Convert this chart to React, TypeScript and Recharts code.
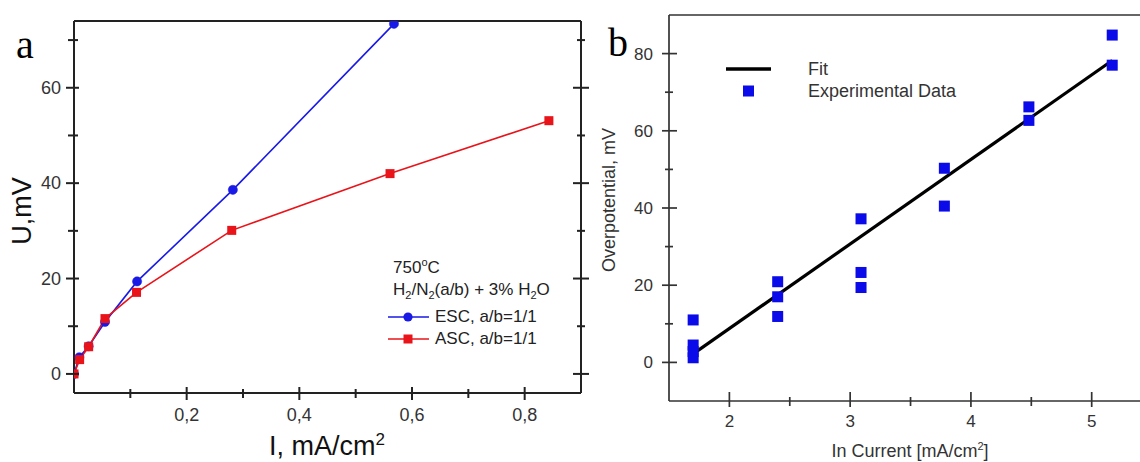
import React from 'react';
import { LineChart, Line, XAxis, YAxis, ComposedChart, Scatter } from 'recharts';

// panel a: U vs I
const escCurrent = [0, 0.0094, 0.026, 0.055, 0.112, 0.282, 0.568];
const escVoltage = [0, 3.5, 5.8, 10.9, 19.4, 38.6, 73.4];
const ascCurrent = [0, 0.01, 0.026, 0.055, 0.111, 0.28, 0.561, 0.843];
const ascVoltage = [0, 3.0, 5.7, 11.6, 17.1, 30.1, 42.0, 53.1];
const seriesNamesA = ['ESC, a/b=1/1', 'ASC, a/b=1/1'];
const xTicksA = [0.1, 0.2, 0.3, 0.4, 0.5, 0.6, 0.7, 0.8];
const xMajorA = [0.2, 0.4, 0.6, 0.8];
const yTicksA = [0, 10, 20, 30, 40, 50, 60, 70];
const yMajorA = [0, 20, 40, 60];

// panel b: overpotential vs ln current
const lnCurrent = [1.7, 1.7, 1.7, 1.7, 2.4, 2.4, 2.4, 3.09, 3.09, 3.09, 3.78, 3.78, 4.48, 4.48, 5.17, 5.17];
const overpotential = [11.0, 4.5, 2.8, 1.2, 20.9, 17.0, 11.9, 37.2, 23.3, 19.4, 50.3, 40.5, 66.2, 62.7, 84.8, 77.0];
const fitX = [1.7, 5.17];
const fitY = [2.2, 78.2];
const seriesNamesB = ['Fit', 'Experimental Data'];
const xTicksB = [2, 2.5, 3, 3.5, 4, 4.5, 5];
const xMajorB = [2, 3, 4, 5];
const yTicksB = [0, 10, 20, 30, 40, 50, 60, 70, 80];
const yMajorB = [0, 20, 40, 60, 80];

const escData = escCurrent.map((i, k) => ({ i, u: escVoltage[k] }));
const ascData = ascCurrent.map((i, k) => ({ i, u: ascVoltage[k] }));
const expData = lnCurrent.map((x, k) => ({ x, y: overpotential[k] }));
const fitData = fitX.map((x, k) => ({ x, y: fitY[k] }));

const BLUE = '#1a1ae6';
const RED = '#e8141a';
const SQ_BLUE = '#0b0bea';
const SANS = '"Liberation Sans", Arial, sans-serif';
const SERIF = '"Liberation Serif", "Times New Roman", serif';

type Side = 'bottom' | 'top' | 'left' | 'right';
interface TickSpec {
  side: Side;
  majors: number[];
  major: [number, number]; // [out, in]
  minor: [number, number];
  stroke: string;
  width: number;
  label?: (v: number) => string;
  gap?: number;
  color?: string;
  fontSize?: number;
}

const makeTick = (s: TickSpec) => (props: any) => {
  const { x, y, payload } = props;
  const v = payload.value;
  const isMajor = s.majors.some((m) => Math.abs(m - v) < 1e-6);
  const [out, inn] = isMajor ? s.major : s.minor;
  let line;
  let text = null;
  const txt = isMajor && s.label ? s.label(v) : null;
  const style = { fontFamily: SANS, fontSize: s.fontSize || 17, fill: s.color || '#333' };
  if (s.side === 'bottom') {
    line = <line x1={x} x2={x} y1={y - inn} y2={y + out} />;
    if (txt) text = <text x={x} y={y + (s.gap || 0)} dy="0.35em" textAnchor="middle" style={style}>{txt}</text>;
  } else if (s.side === 'top') {
    line = <line x1={x} x2={x} y1={y - out} y2={y + inn} />;
  } else if (s.side === 'left') {
    line = <line x1={x - out} x2={x + inn} y1={y} y2={y} />;
    if (txt) text = <text x={x - (s.gap || 0)} y={y} dy="0.35em" textAnchor="end" style={style}>{txt}</text>;
  } else {
    line = <line x1={x - inn} x2={x + out} y1={y} y2={y} />;
  }
  return (
    <g stroke={s.stroke} strokeWidth={s.width}>
      {line}
      <g stroke="none">{text}</g>
    </g>
  );
};

const SquareDot = (color: string, size: number) => (props: any) => {
  const { cx, cy, index } = props;
  if (cx == null || cy == null) return <g key={index} />;
  return <rect key={index} x={cx - size / 2} y={cy - size / 2} width={size} height={size} fill={color} />;
};

const commaFmt = (v: number) => v.toFixed(1).replace('.', ',');

const PanelA = () => {
  const axisA = { stroke: '#222', strokeWidth: 2 };
  return (
    <div style={{ position: 'absolute', left: 0, top: 0, width: 600, height: 462 }}>
      <LineChart width={600} height={462} margin={{ top: 11, right: 9, bottom: 59, left: 64 }}>
        <XAxis
          xAxisId="b"
          dataKey="i"
          type="number"
          domain={[0, 0.9]}
          allowDataOverflow
          ticks={xTicksA}
          interval={0}
          height={10}
          tickSize={0}
          tickMargin={0}
          axisLine={axisA}
          tickLine={false}
          tick={makeTick({ side: 'bottom', majors: xMajorA, major: [7, 6], minor: [5, 4], stroke: '#222', width: 2, label: commaFmt, gap: 22, color: '#333', fontSize: 18 })}
        />
        <XAxis
          xAxisId="t"
          orientation="top"
          type="number"
          domain={[0, 0.9]}
          allowDataOverflow
          ticks={xTicksA}
          interval={0}
          height={10}
          tickSize={0}
          tickMargin={0}
          axisLine={axisA}
          tickLine={false}
          tick={makeTick({ side: 'top', majors: xMajorA, major: [8, 6], minor: [6, 4], stroke: '#222', width: 2 })}
        />
        <YAxis
          yAxisId="l"
          type="number"
          domain={[-4, 74]}
          allowDataOverflow
          ticks={yTicksA}
          interval={0}
          width={10}
          tickSize={0}
          tickMargin={0}
          axisLine={axisA}
          tickLine={false}
          tick={makeTick({ side: 'left', majors: yMajorA, major: [8, 5], minor: [6, 4], stroke: '#222', width: 2, label: (v) => String(v), gap: 13, color: '#333', fontSize: 18 })}
        />
        <YAxis
          yAxisId="r"
          orientation="right"
          type="number"
          domain={[-4, 74]}
          allowDataOverflow
          ticks={yTicksA}
          interval={0}
          width={10}
          tickSize={0}
          tickMargin={0}
          axisLine={axisA}
          tickLine={false}
          tick={makeTick({ side: 'right', majors: yMajorA, major: [8, 8], minor: [4, 4], stroke: '#222', width: 2 })}
        />
        <Line
          xAxisId="b"
          yAxisId="l"
          data={escData}
          dataKey="u"
          name={seriesNamesA[0]}
          stroke={BLUE}
          strokeWidth={1.6}
          dot={{ r: 4.6, fill: BLUE, stroke: BLUE, strokeWidth: 0.5 }}
          isAnimationActive={false}
        />
        <Line
          xAxisId="b"
          yAxisId="l"
          data={ascData}
          dataKey="u"
          name={seriesNamesA[1]}
          stroke={RED}
          strokeWidth={1.6}
          dot={SquareDot(RED, 9)}
          isAnimationActive={false}
        />
      </LineChart>
      <div style={{ position: 'absolute', left: 16, top: 21, fontFamily: SERIF, fontSize: 40, lineHeight: '48px' }}>a</div>
      <div
        style={{
          position: 'absolute',
          left: 22,
          top: 211,
          transform: 'translate(-50%, -50%) rotate(-90deg)',
          fontFamily: SANS,
          fontSize: 27,
          whiteSpace: 'nowrap',
          color: '#111',
        }}
      >
        U,mV
      </div>
      <div
        style={{
          position: 'absolute',
          left: 327,
          top: 446,
          transform: 'translate(-50%, -50%)',
          fontFamily: SANS,
          fontSize: 27,
          whiteSpace: 'nowrap',
          color: '#111',
        }}
      >
        I, mA/cm<sup style={{ fontSize: 17 }}>2</sup>
      </div>
      <div style={{ position: 'absolute', left: 388, top: 251, fontFamily: SANS, fontSize: 17, lineHeight: '22px', color: '#222' }}>
        <div style={{ marginLeft: 5 }}>
          750<sup style={{ fontSize: 11 }}>o</sup>C
        </div>
        <div style={{ marginLeft: 5 }}>
          H<sub style={{ fontSize: 11 }}>2</sub>/N<sub style={{ fontSize: 11 }}>2</sub>(a/b) + 3% H<sub style={{ fontSize: 11 }}>2</sub>O
        </div>
        {seriesNamesA.map((name, k) => (
          <div key={name} style={{ display: 'flex', alignItems: 'center', height: 22 }}>
            <svg width={44} height={12} style={{ marginRight: 3 }}>
              <line x1={0} x2={41} y1={6} y2={6} stroke={k === 0 ? BLUE : RED} strokeWidth={1.6} />
              {k === 0 ? <circle cx={20} cy={6} r={4.6} fill={BLUE} /> : <rect x={15.5} y={1.5} width={9} height={9} fill={RED} />}
            </svg>
            <span>{name}</span>
          </div>
        ))}
      </div>
    </div>
  );
};

const PanelB = () => {
  const axisB = { stroke: '#333', strokeWidth: 1.7 };
  return (
    <div style={{ position: 'absolute', left: 580, top: 0, width: 560, height: 462 }}>
      <ComposedChart width={560} height={462} margin={{ top: 10, right: 0, bottom: 51, left: 79 }}>
        <XAxis
          xAxisId="b"
          dataKey="x"
          type="number"
          domain={[1.5, 5.4]}
          allowDataOverflow
          ticks={xTicksB}
          interval={0}
          height={10}
          tickSize={0}
          tickMargin={0}
          axisLine={axisB}
          tickLine={false}
          tick={makeTick({ side: 'bottom', majors: xMajorB, major: [6, 9], minor: [5, 4], stroke: '#333', width: 1.7, label: (v) => String(v), gap: 20, color: '#333' })}
        />
        <XAxis
          xAxisId="t"
          orientation="top"
          type="number"
          domain={[1.5, 5.4]}
          allowDataOverflow
          height={5}
          axisLine={axisB}
          tickLine={false}
          tick={false}
        />
        <YAxis
          yAxisId="l"
          dataKey="y"
          type="number"
          domain={[-10, 90]}
          allowDataOverflow
          ticks={yTicksB}
          interval={0}
          width={10}
          tickSize={0}
          tickMargin={0}
          axisLine={axisB}
          tickLine={false}
          tick={makeTick({ side: 'left', majors: yMajorB, major: [7, 8], minor: [4, 4], stroke: '#333', width: 1.7, label: (v) => String(v), gap: 16, color: '#333' })}
        />
        <Scatter
          xAxisId="b"
          yAxisId="l"
          data={expData}
          dataKey="y"
          name={seriesNamesB[1]}
          fill={SQ_BLUE}
          shape={(p: any) => <rect x={p.cx - 5.5} y={p.cy - 5.5} width={11} height={11} fill={SQ_BLUE} />}
          isAnimationActive={false}
        />
        <Line
          xAxisId="b"
          yAxisId="l"
          data={fitData}
          dataKey="y"
          name={seriesNamesB[0]}
          stroke="#000"
          strokeWidth={3.2}
          dot={false}
          isAnimationActive={false}
        />
      </ComposedChart>
      <div style={{ position: 'absolute', left: 28, top: 19, fontFamily: SERIF, fontSize: 40, lineHeight: '48px' }}>b</div>
      <div
        style={{
          position: 'absolute',
          left: 29,
          top: 200,
          transform: 'translate(-50%, -50%) rotate(-90deg)',
          fontFamily: SANS,
          fontSize: 18,
          whiteSpace: 'nowrap',
          color: '#333',
        }}
      >
        Overpotential, mV
      </div>
      <div
        style={{
          position: 'absolute',
          left: 330,
          top: 451,
          transform: 'translate(-50%, -50%)',
          fontFamily: SANS,
          fontSize: 18,
          whiteSpace: 'nowrap',
          color: '#333',
        }}
      >
        In Current [mA/cm<sup style={{ fontSize: 11 }}>2</sup>]
      </div>
      <div style={{ position: 'absolute', left: 146, top: 58, fontFamily: SANS, fontSize: 18, lineHeight: '22px', color: '#333' }}>
        {seriesNamesB.map((name, k) => (
          <div key={name} style={{ display: 'flex', alignItems: 'center', height: 22 }}>
            <svg width={82} height={14}>
              {k === 0 ? (
                <line x1={0} x2={45} y1={7} y2={7} stroke="#000" strokeWidth={3.6} />
              ) : (
                <rect x={17} y={1.5} width={11} height={11} fill={SQ_BLUE} />
              )}
            </svg>
            <span>{name}</span>
          </div>
        ))}
      </div>
    </div>
  );
};

export default function App() {
  return (
    <div style={{ position: 'absolute', left: 0, top: 0, width: 1140, height: 462, background: '#fff', overflow: 'hidden' }}>
      <PanelA />
      <PanelB />
    </div>
  );
}
